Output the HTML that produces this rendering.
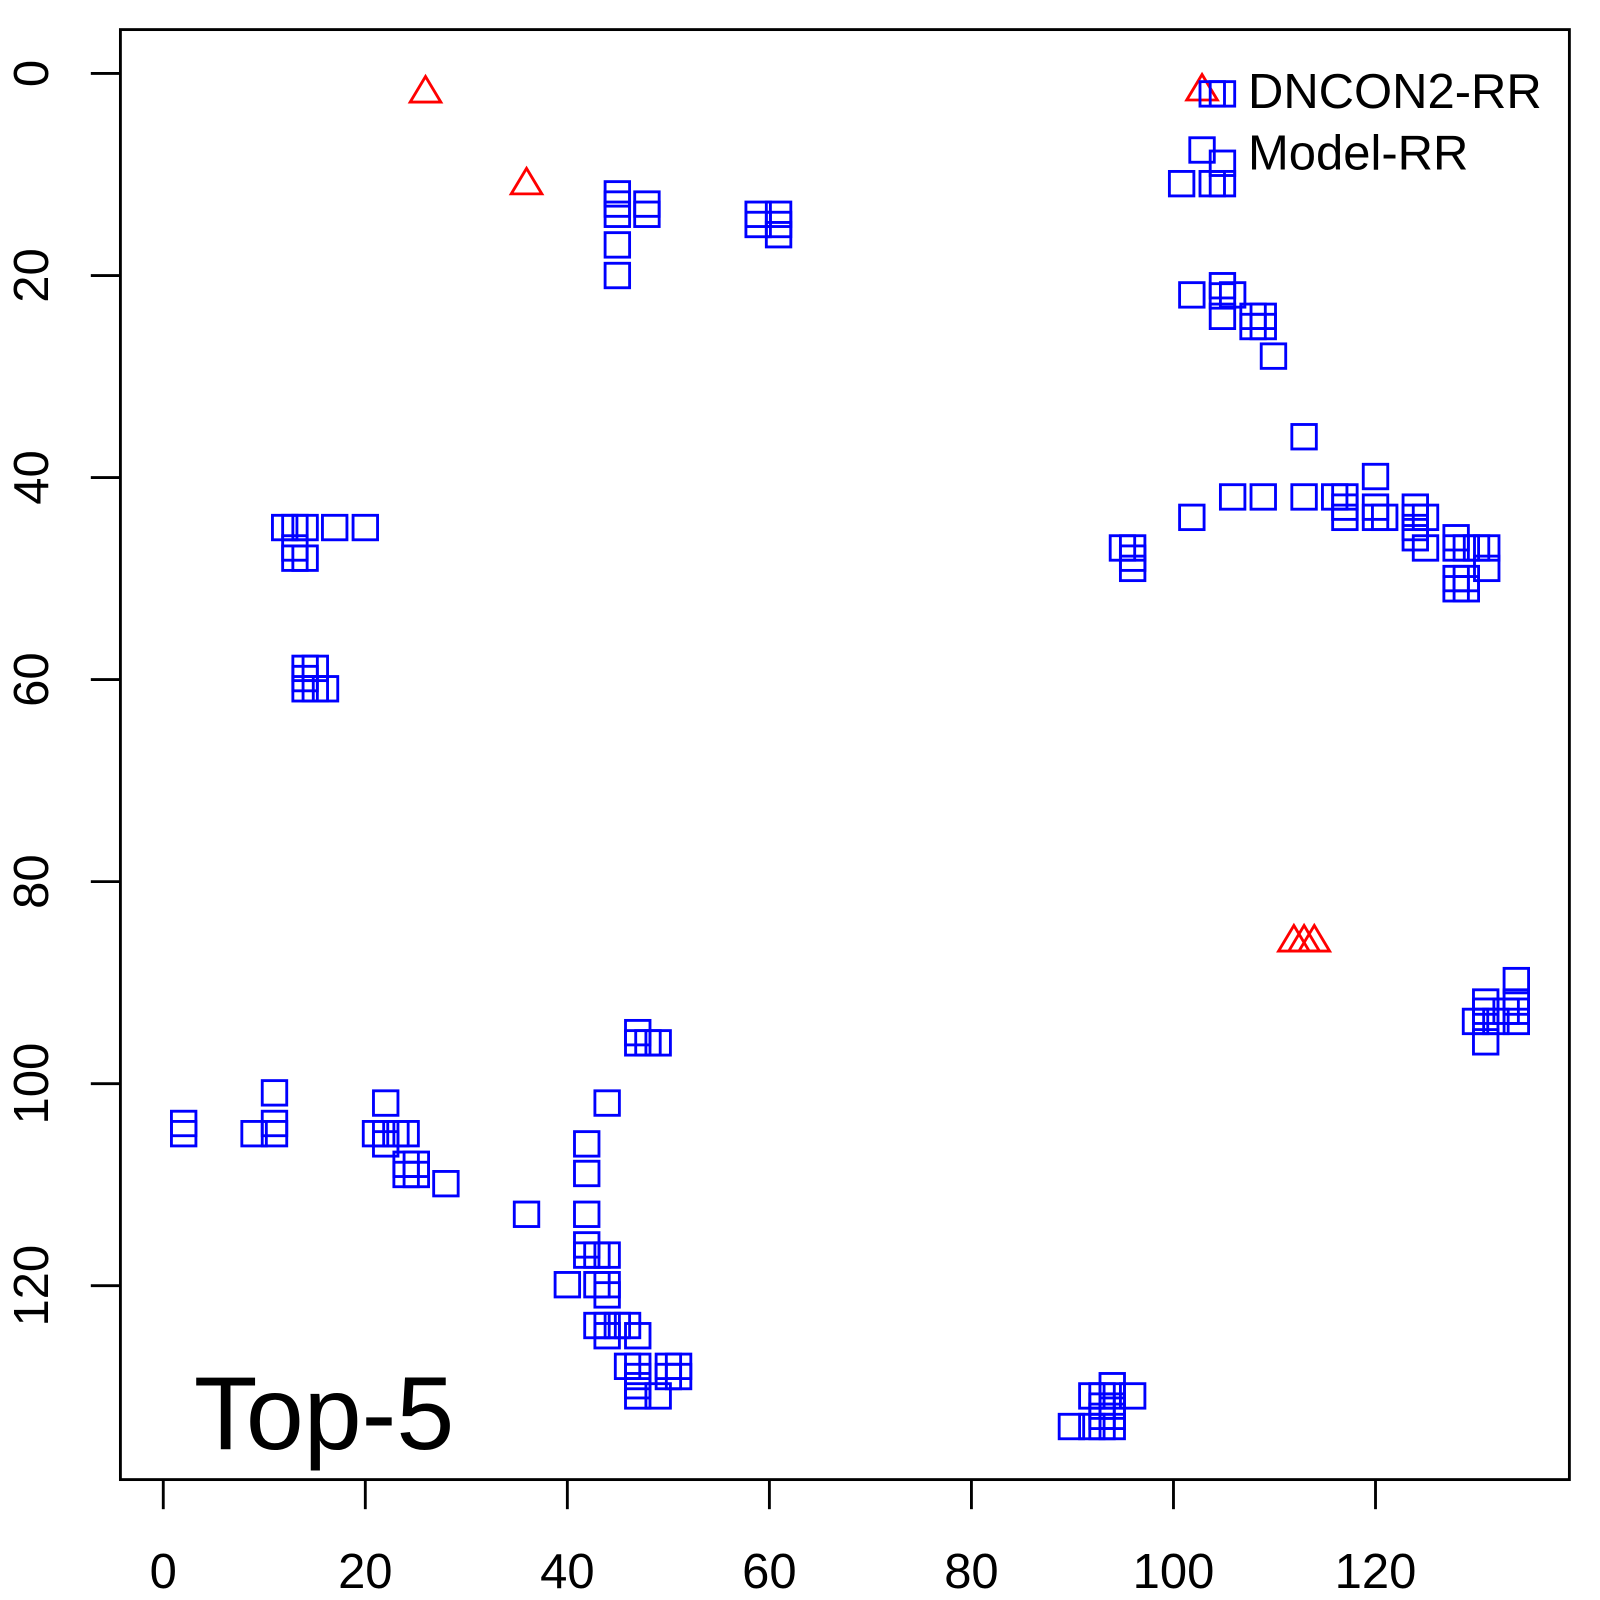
<!DOCTYPE html>
<html><head><meta charset="utf-8"><style>html,body{margin:0;padding:0;background:#fff}svg{display:block}</style></head>
<body>
<svg width="1600" height="1600" viewBox="0 0 1568 1568" xmlns="http://www.w3.org/2000/svg" font-family="Liberation Sans, Arial, sans-serif">
<rect width="1568" height="1568" fill="#fff"/>
<rect x="118" y="29" width="1420" height="1421" fill="none" stroke="#000" stroke-width="2.8"/>
<g stroke="#000" stroke-width="2.8">
<line x1="160" y1="1450" x2="160" y2="1479"/><line x1="358" y1="1450" x2="358" y2="1479"/><line x1="556" y1="1450" x2="556" y2="1479"/><line x1="754" y1="1450" x2="754" y2="1479"/><line x1="952" y1="1450" x2="952" y2="1479"/><line x1="1150" y1="1450" x2="1150" y2="1479"/><line x1="1348" y1="1450" x2="1348" y2="1479"/>
<line x1="118" y1="72" x2="89" y2="72"/><line x1="118" y1="270" x2="89" y2="270"/><line x1="118" y1="468" x2="89" y2="468"/><line x1="118" y1="666" x2="89" y2="666"/><line x1="118" y1="864" x2="89" y2="864"/><line x1="118" y1="1062" x2="89" y2="1062"/><line x1="118" y1="1260" x2="89" y2="1260"/>
</g>
<g font-size="48" text-anchor="middle" fill="#000">
<text x="160" y="1556">0</text><text x="358" y="1556">20</text><text x="556" y="1556">40</text><text x="754" y="1556">60</text><text x="952" y="1556">80</text><text x="1150" y="1556">100</text><text x="1348" y="1556">120</text>
<text transform="translate(47,72) rotate(-90)">0</text><text transform="translate(47,270) rotate(-90)">20</text><text transform="translate(47,468) rotate(-90)">40</text><text transform="translate(47,666) rotate(-90)">60</text><text transform="translate(47,864) rotate(-90)">80</text><text transform="translate(47,1062) rotate(-90)">100</text><text transform="translate(47,1260) rotate(-90)">120</text>
</g>
<text x="190" y="1420" font-size="102" fill="#000">Top-5</text>
<text x="1223" y="106" font-size="48" fill="#000">DNCON2-RR</text>
<text x="1223" y="166" font-size="48" fill="#000">Model-RR</text>
<g fill="none" stroke="#f00" stroke-width="2.8">
<polygon points="417,75 432,100 402,100"/><polygon points="516,165 531,190 501,190"/><polygon points="1178,73 1193,98 1163,98"/><polygon points="1268,907 1283,932 1253,932"/><polygon points="1278,907 1293,932 1263,932"/><polygon points="1288,907 1303,932 1273,932"/>
</g>
<g fill="none" stroke="#00f" stroke-width="2.8" transform="translate(-12,-12)">
<rect x="605" y="190" width="24" height="24"/><rect x="605" y="200" width="24" height="24"/><rect x="605" y="210" width="24" height="24"/><rect x="605" y="240" width="24" height="24"/><rect x="605" y="270" width="24" height="24"/><rect x="634" y="200" width="24" height="24"/><rect x="634" y="210" width="24" height="24"/>
<rect x="743" y="210" width="24" height="24"/><rect x="743" y="220" width="24" height="24"/><rect x="763" y="210" width="24" height="24"/><rect x="763" y="220" width="24" height="24"/><rect x="763" y="230" width="24" height="24"/>
<rect x="1188" y="92" width="24" height="24"/><rect x="1198" y="92" width="24" height="24"/><rect x="1178" y="147" width="24" height="24"/><rect x="1198" y="160" width="24" height="24"/><rect x="1158" y="180" width="24" height="24"/><rect x="1188" y="180" width="24" height="24"/><rect x="1198" y="180" width="24" height="24"/>
<rect x="1168" y="289" width="24" height="24"/><rect x="1198" y="280" width="24" height="24"/><rect x="1198" y="290" width="24" height="24"/><rect x="1198" y="310" width="24" height="24"/><rect x="1208" y="289" width="24" height="24"/><rect x="1228" y="310" width="24" height="24"/><rect x="1238" y="310" width="24" height="24"/><rect x="1228" y="320" width="24" height="24"/><rect x="1238" y="320" width="24" height="24"/><rect x="1248" y="349" width="24" height="24"/>
<rect x="1278" y="428" width="24" height="24"/><rect x="1278" y="487" width="24" height="24"/><rect x="1208" y="487" width="24" height="24"/><rect x="1238" y="487" width="24" height="24"/><rect x="1168" y="507" width="24" height="24"/><rect x="1308" y="487" width="24" height="24"/><rect x="1318" y="487" width="24" height="24"/><rect x="1318" y="497" width="24" height="24"/><rect x="1318" y="507" width="24" height="24"/><rect x="1348" y="467" width="24" height="24"/><rect x="1348" y="497" width="24" height="24"/><rect x="1348" y="507" width="24" height="24"/><rect x="1357" y="507" width="24" height="24"/><rect x="1387" y="497" width="24" height="24"/><rect x="1387" y="507" width="24" height="24"/><rect x="1387" y="517" width="24" height="24"/><rect x="1387" y="527" width="24" height="24"/><rect x="1397" y="507" width="24" height="24"/><rect x="1397" y="537" width="24" height="24"/><rect x="1427" y="527" width="24" height="24"/><rect x="1427" y="537" width="24" height="24"/><rect x="1437" y="537" width="24" height="24"/><rect x="1447" y="537" width="24" height="24"/><rect x="1457" y="537" width="24" height="24"/><rect x="1457" y="557" width="24" height="24"/><rect x="1427" y="567" width="24" height="24"/><rect x="1427" y="577" width="24" height="24"/><rect x="1437" y="567" width="24" height="24"/><rect x="1437" y="577" width="24" height="24"/>
<rect x="1100" y="537" width="24" height="24"/><rect x="1110" y="537" width="24" height="24"/><rect x="1110" y="547" width="24" height="24"/><rect x="1110" y="557" width="24" height="24"/>
<rect x="279" y="517" width="24" height="24"/><rect x="289" y="517" width="24" height="24"/><rect x="299" y="517" width="24" height="24"/><rect x="328" y="517" width="24" height="24"/><rect x="358" y="517" width="24" height="24"/><rect x="289" y="537" width="24" height="24"/><rect x="289" y="547" width="24" height="24"/><rect x="299" y="547" width="24" height="24"/>
<rect x="299" y="655" width="24" height="24"/><rect x="309" y="655" width="24" height="24"/><rect x="299" y="675" width="24" height="24"/><rect x="309" y="675" width="24" height="24"/><rect x="319" y="675" width="24" height="24"/><rect x="299" y="665" width="24" height="24"/>
<rect x="1486" y="961" width="24" height="24"/><rect x="1456" y="982" width="24" height="24"/><rect x="1486" y="982" width="24" height="24"/><rect x="1446" y="1001" width="24" height="24"/><rect x="1456" y="1001" width="24" height="24"/><rect x="1466" y="1001" width="24" height="24"/><rect x="1476" y="991" width="24" height="24"/><rect x="1486" y="1001" width="24" height="24"/><rect x="1456" y="1021" width="24" height="24"/><rect x="1456" y="991" width="24" height="24"/><rect x="1486" y="991" width="24" height="24"/>
<rect x="180" y="1101" width="24" height="24"/><rect x="180" y="1111" width="24" height="24"/><rect x="249" y="1111" width="24" height="24"/><rect x="269" y="1071" width="24" height="24"/><rect x="269" y="1101" width="24" height="24"/><rect x="269" y="1111" width="24" height="24"/><rect x="378" y="1081" width="24" height="24"/><rect x="368" y="1111" width="24" height="24"/><rect x="378" y="1111" width="24" height="24"/><rect x="388" y="1111" width="24" height="24"/><rect x="398" y="1111" width="24" height="24"/><rect x="378" y="1121" width="24" height="24"/><rect x="398" y="1141" width="24" height="24"/><rect x="408" y="1141" width="24" height="24"/><rect x="398" y="1151" width="24" height="24"/><rect x="408" y="1151" width="24" height="24"/><rect x="437" y="1160" width="24" height="24"/><rect x="516" y="1190" width="24" height="24"/>
<rect x="595" y="1081" width="24" height="24"/><rect x="575" y="1121" width="24" height="24"/><rect x="575" y="1150" width="24" height="24"/><rect x="575" y="1190" width="24" height="24"/><rect x="575" y="1220" width="24" height="24"/><rect x="575" y="1230" width="24" height="24"/><rect x="585" y="1230" width="24" height="24"/><rect x="595" y="1230" width="24" height="24"/><rect x="556" y="1259" width="24" height="24"/><rect x="585" y="1259" width="24" height="24"/><rect x="595" y="1259" width="24" height="24"/><rect x="595" y="1269" width="24" height="24"/><rect x="585" y="1299" width="24" height="24"/><rect x="595" y="1299" width="24" height="24"/><rect x="605" y="1299" width="24" height="24"/><rect x="615" y="1299" width="24" height="24"/><rect x="595" y="1309" width="24" height="24"/><rect x="625" y="1309" width="24" height="24"/><rect x="615" y="1339" width="24" height="24"/><rect x="625" y="1339" width="24" height="24"/><rect x="625" y="1349" width="24" height="24"/><rect x="625" y="1358" width="24" height="24"/><rect x="625" y="1368" width="24" height="24"/><rect x="645" y="1368" width="24" height="24"/><rect x="655" y="1339" width="24" height="24"/><rect x="665" y="1339" width="24" height="24"/><rect x="655" y="1349" width="24" height="24"/><rect x="665" y="1349" width="24" height="24"/>
<rect x="625" y="1012" width="24" height="24"/><rect x="625" y="1022" width="24" height="24"/><rect x="635" y="1022" width="24" height="24"/><rect x="645" y="1022" width="24" height="24"/>
<rect x="1090" y="1358" width="24" height="24"/><rect x="1070" y="1368" width="24" height="24"/><rect x="1080" y="1368" width="24" height="24"/><rect x="1090" y="1368" width="24" height="24"/><rect x="1110" y="1368" width="24" height="24"/><rect x="1080" y="1378" width="24" height="24"/><rect x="1090" y="1378" width="24" height="24"/><rect x="1080" y="1388" width="24" height="24"/><rect x="1090" y="1388" width="24" height="24"/><rect x="1050" y="1398" width="24" height="24"/><rect x="1070" y="1398" width="24" height="24"/><rect x="1080" y="1398" width="24" height="24"/><rect x="1090" y="1398" width="24" height="24"/>
</g>
</svg>
</body></html>
